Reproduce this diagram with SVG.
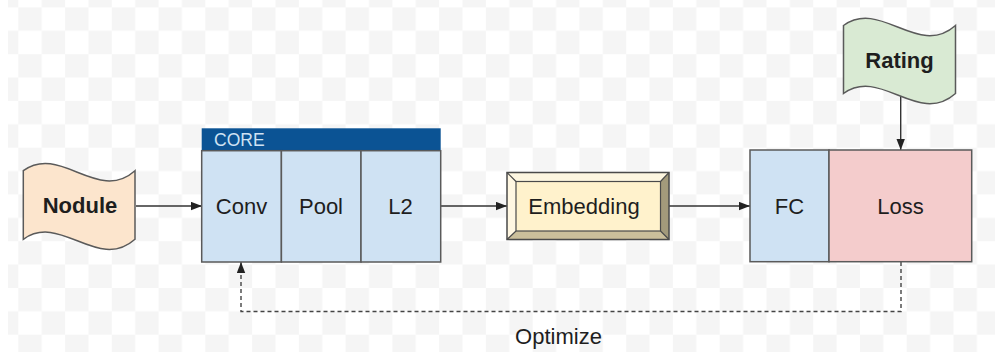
<svg xmlns="http://www.w3.org/2000/svg" width="995" height="352" viewBox="0 0 995 352">
  <defs>
    <pattern id="checker" patternUnits="userSpaceOnUse" x="18.3" y="7.4" width="46.76" height="46.76">
      <rect x="0" y="0" width="46.76" height="46.76" fill="#ffffff"/>
      <rect x="0" y="0" width="23.38" height="23.38" fill="#f5f5f5"/>
      <rect x="23.38" y="23.38" width="23.38" height="23.38" fill="#f5f5f5"/>
    </pattern>
    <marker id="arrow" markerWidth="12" markerHeight="10" refX="11" refY="4.2" orient="auto" markerUnits="userSpaceOnUse">
      <path d="M0,0 L11,4.2 L0,8.4 Z" fill="#222"/>
    </marker>
    <style>
      .box { stroke: #5a5a5a; stroke-width: 1.5; }
      .cell { fill: #cfe2f3; }
      .lbl { font-family: "Liberation Sans", Arial, sans-serif; font-size: 22px; fill: #1e1e1e; text-anchor: middle; }
      .bold { font-weight: bold; }
      .conn { fill: none; stroke: #333; stroke-width: 1.4; }
      .dash { stroke: #444; stroke-dasharray: 4 3; }
    </style>
  </defs>

  <rect x="0" y="0" width="995" height="352" fill="#ffffff"/>
  <rect x="8" y="0" width="987" height="352" fill="url(#checker)"/>

  <g id="connectors">
    <line class="conn" x1="136" y1="206" x2="202" y2="206" marker-end="url(#arrow)"/>
    <line class="conn" x1="441" y1="206" x2="507" y2="206" marker-end="url(#arrow)"/>
    <line class="conn" x1="669" y1="206" x2="750" y2="206" marker-end="url(#arrow)"/>
    <line class="conn" x1="900.7" y1="96" x2="900.7" y2="150" marker-end="url(#arrow)"/>
    <path class="conn dash" d="M901,262 L901,311.5 L241,311.5 L241,262" marker-end="url(#arrow)"/>
  </g>

  <g id="nodule">
    <path class="box" fill="#fce5cd" d="M23.3,170.7 C60.5,143.7 97.8,203.7 135,170.7 L135,239.3 C97.8,272.3 60.5,212.3 23.3,239.3 Z"/>
    <text class="lbl bold" x="80" y="213">Nodule</text>
  </g>

  <g id="core">
    <rect x="201.7" y="128.3" width="239" height="22.4" fill="#0b5394"/>
    <text x="214" y="146" font-family="Liberation Sans, Arial, sans-serif" font-size="17.5" fill="#cfe2f3">CORE</text>
    <g id="conv">
      <rect class="box cell" x="201.7" y="150.7" width="79.7" height="111.3"/>
      <text class="lbl" x="241.5" y="214">Conv</text>
    </g>
    <g id="pool">
      <rect class="box cell" x="281.4" y="150.7" width="79.6" height="111.3"/>
      <text class="lbl" x="321" y="214">Pool</text>
    </g>
    <g id="l2">
      <rect class="box cell" x="361" y="150.7" width="79.7" height="111.3"/>
      <text class="lbl" x="400.5" y="214">L2</text>
    </g>
  </g>

  <g id="embedding">
    <rect x="507" y="172.5" width="162" height="67" fill="#fff2cc"/>
    <polygon points="507,172.5 669,172.5 660.5,181.5 516,181.5" fill="#fdf6e0"/>
    <polygon points="507,172.5 516,181.5 516,231 507,239.5" fill="#fff7e2"/>
    <polygon points="669,172.5 669,239.5 660.5,231 660.5,181.5" fill="#a39a7b"/>
    <polygon points="507,239.5 516,231 660.5,231 669,239.5" fill="#cbbf9b"/>
    <rect x="507" y="172.5" width="162" height="67" fill="none" stroke="#4a4a4a" stroke-width="1.5"/>
    <rect x="516" y="181.5" width="144.5" height="49.5" fill="none" stroke="#4a4a4a" stroke-width="1.2"/>
    <path d="M507,172.5 L516,181.5 M669,172.5 L660.5,181.5 M507,239.5 L516,231 M669,239.5 L660.5,231" stroke="#4a4a4a" stroke-width="1.2" fill="none"/>
    <text class="lbl" x="584" y="214">Embedding</text>
  </g>

  <g id="fc">
    <rect class="box cell" x="750" y="150" width="79" height="111.7"/>
    <text class="lbl" x="789.5" y="214">FC</text>
  </g>

  <g id="loss">
    <rect class="box" fill="#f4cccc" x="829" y="150" width="142.7" height="111.7"/>
    <text class="lbl" x="900.5" y="214">Loss</text>
  </g>

  <g id="rating">
    <path class="box" fill="#d9ead3" d="M843.5,25.5 C880.8,-1.5 918.2,58.5 955.5,25.5 L955.5,93.5 C918.2,126.5 880.8,66.5 843.5,93.5 Z"/>
    <text class="lbl bold" x="899.5" y="67.5">Rating</text>
  </g>

  <g id="optimize-label">
    <text class="lbl" x="558.5" y="344">Optimize</text>
  </g>
</svg>
